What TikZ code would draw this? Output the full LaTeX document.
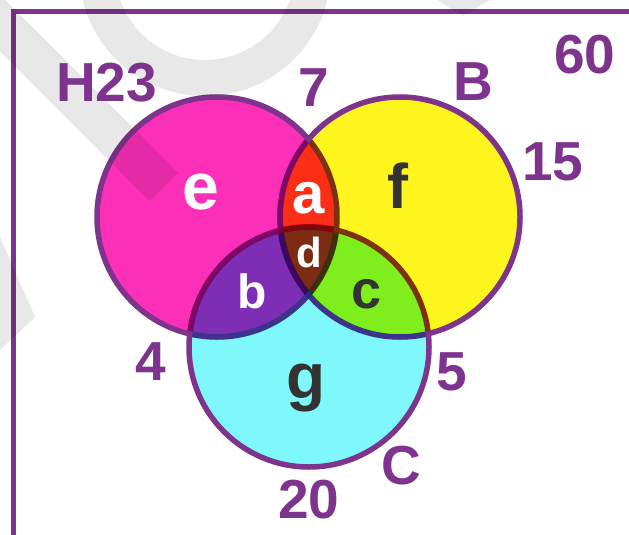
\documentclass[tikz,border=0pt]{standalone}
\usepackage{fontspec}
\setmainfont{Liberation Sans}
\definecolor{pinkc}{RGB}{252,48,184}
\definecolor{yellowc}{RGB}{255,245,30}
\definecolor{cyanc}{RGB}{127,248,252}
\definecolor{purp}{RGB}{126,52,140}
\definecolor{darkt}{RGB}{51,51,51}
\definecolor{wm}{RGB}{232,232,232}
\tikzset{
  setline/.style={draw=purp, line width=5.5pt},
  mult/.style={blend mode=multiply},
  lbl/.style={text=purp, font=\fontsize{55}{60}\selectfont\bfseries, inner sep=0pt},
  rw/.style={text=white, inner sep=0pt},
  rd/.style={text=darkt, inner sep=0pt},
  wmark/.style={wm, blend mode=multiply}
}
\newcommand{\fs}[1]{\fontsize{#1}{#1}\selectfont\bfseries}
\begin{document}
\begin{tikzpicture}[x=1pt,y=-1pt]
\useasboundingbox (0,0) rectangle (629,535);
\fill[white] (0,0) rectangle (629,535);
\begin{scope}
\clip (0,0) rectangle (629,535);
\draw[purp, line width=5pt] (13.5,11.5) rectangle (660,538);
% circles
\coordinate (P) at (217,217);
\coordinate (Y) at (400,217);
\coordinate (C) at (309,347);
\fill[mult, pinkc] (P) circle (120);
\fill[mult, yellowc] (Y) circle (120);
\fill[mult, cyanc] (C) circle (120);
\draw[setline] (P) circle (120);
\draw[setline] (Y) circle (120);
\draw[setline] (C) circle (120);
% tint each outline by the other sets' fills
\begin{scope}[even odd rule]
\clip (P) circle (123) (P) circle (117);
\fill[mult, yellowc] (Y) circle (117.25);
\fill[mult, cyanc] (C) circle (117.25);
\end{scope}
\begin{scope}[even odd rule]
\clip (Y) circle (123) (Y) circle (117);
\fill[mult, pinkc] (P) circle (117.25);
\fill[mult, cyanc] (C) circle (117.25);
\end{scope}
\begin{scope}[even odd rule]
\clip (C) circle (123) (C) circle (117);
\fill[mult, pinkc] (P) circle (117.25);
\fill[mult, yellowc] (Y) circle (117.25);
\end{scope}
% watermark
\draw[wmark, line width=40pt] (-30,-7) -- (164,187);
\draw[wmark, line width=36pt] (205,-30) ++(170:108) arc[start angle=170, end angle=5, radius=108];
\fill[wmark] (437,0) -- (463,16) -- (490,0) -- cycle;
\fill[wmark] (0,237) -- (35,317) -- (0,350) -- cycle;
\end{scope}
% labels
\node[lbl] (h23) at (106.5,82.5) {H23};
\node[lbl] (n7) at (314,88) {7};
\node[lbl] (nB) at (473,82) {B};
\node[lbl] (n60) at (585,55) {60};
\node[lbl] (n15) at (553,162) {15};
\node[lbl] (n4) at (151,362) {4};
\node[lbl] (n5) at (452,372) {5};
\node[lbl] (nC) at (401,466) {C};
\node[lbl] (n20) at (309,500) {20};
% region letters
\node[rw, font=\fs{66}] (re) at (201,192) {e};
\node[rw, font=\fs{58}] (ra) at (309,198) {a};
\node[rd, font=\fs{63}] (rf) at (398,186) {f};
\node[rw, font=\fs{42}] (rdd) at (309,252) {d};
\node[rw, font=\fs{48}] (rb) at (252,291) {b};
\node[rd, font=\fs{54}] (rc) at (367,294) {c};
\node[rd, font=\fs{64}] (rg) at (306,388) {g};
\end{tikzpicture}
\end{document}
